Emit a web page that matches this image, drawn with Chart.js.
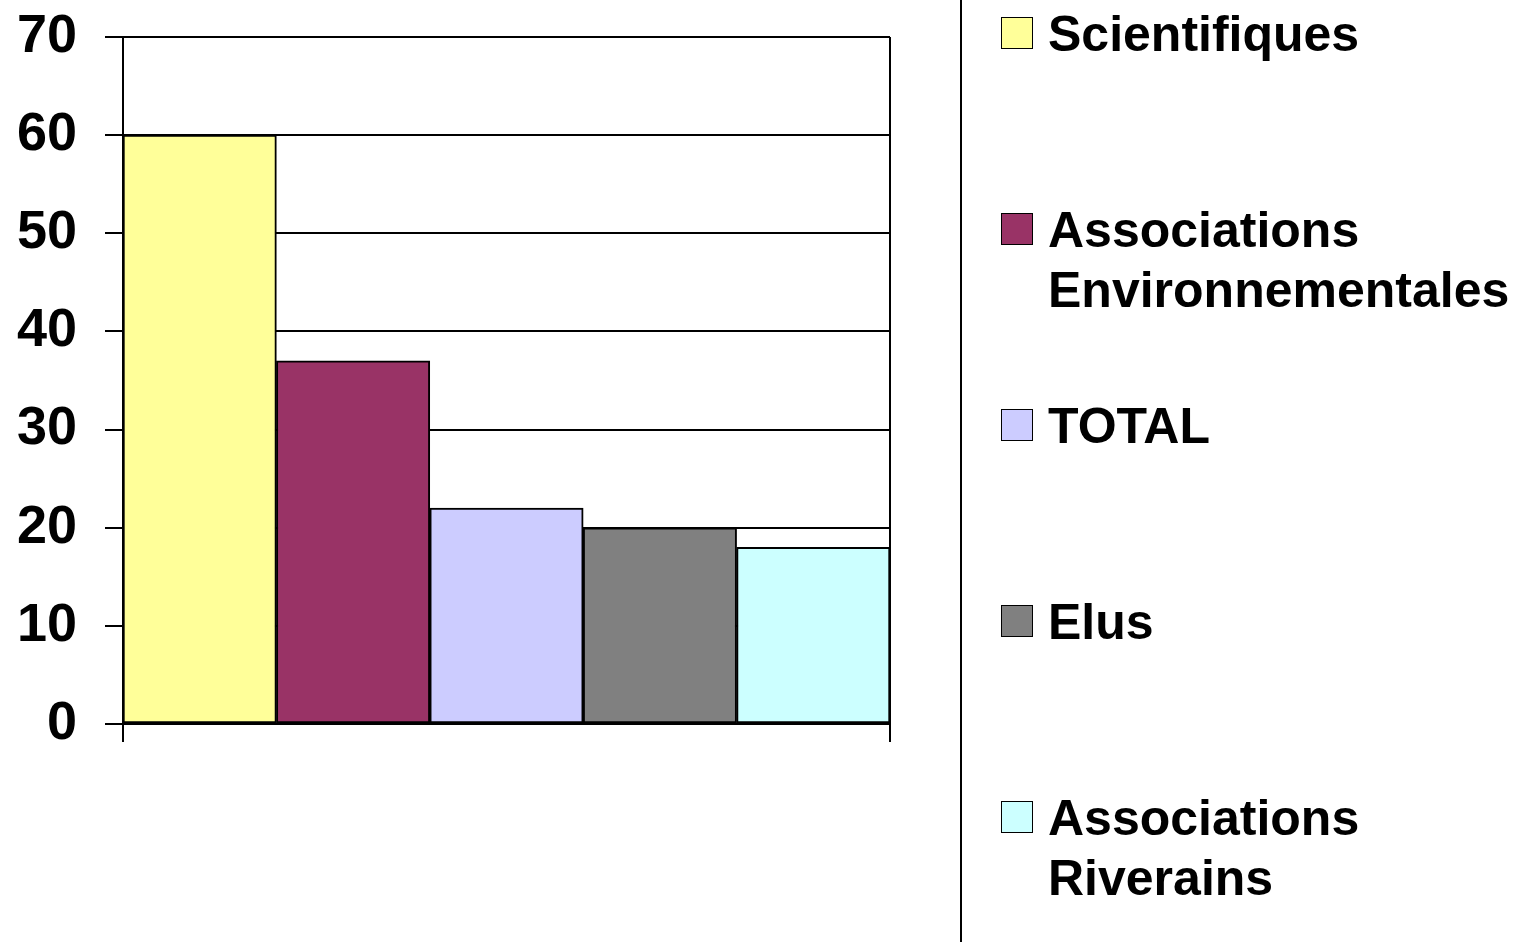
<!DOCTYPE html>
<html>
<head>
<meta charset="utf-8">
<script src="https://cdn.jsdelivr.net/npm/chart.js@4"></script>
<style>
html, body { margin: 0; padding: 0; background: #fff; }
#wrap { position: relative; width: 1533px; height: 942px; overflow: hidden; }
#divider { position: absolute; left: 960px; top: 0; width: 2px; height: 942px; background: #000; }
.item { position: absolute; left: 1001px; font-family: "Liberation Sans", Arial, sans-serif; font-weight: bold; font-size: 50px; line-height: 60px; color: #000; white-space: pre-line; }
.item .box { position: absolute; left: 0; top: 13px; width: 30px; height: 30px; border: 1px solid #000; }
.item .txt { position: absolute; left: 47px; top: 0; width: 500px; }
</style>
</head>
<body>
<div id="wrap">
  <canvas id="myChart" width="1533" height="942"></canvas>
  <div id="divider"></div>
  <div id="legend"></div>
</div>
<script>
// series names, values and colours
var seriesNames = ["Scientifiques", "Associations\nEnvironnementales", "TOTAL", "Elus", "Associations\nRiverains"];
var seriesValues = [60, 37, 22, 20, 18];
var seriesColors = ["#FFFF99", "#993366", "#CCCCFF", "#808080", "#CCFFFF"];
var xlabels = [""];
var yTicks = [0, 10, 20, 30, 40, 50, 60, 70];

var datasets = [];
for (var i = 0; i < seriesNames.length; i++) {
    datasets.push({
        label: seriesNames[i].replace("\n", " "),
        data: [seriesValues[i]],
        backgroundColor: seriesColors[i],
        borderColor: "#000",
        borderWidth: 2,
        borderSkipped: false
    });
}

// html legend, one item every 196px
var legend = document.getElementById("legend");
seriesNames.forEach(function (name, i) {
    var item = document.createElement("div");
    item.className = "item";
    item.style.top = (4 + i * 196) + "px";
    var box = document.createElement("div");
    box.className = "box";
    box.style.background = seriesColors[i];
    var txt = document.createElement("div");
    txt.className = "txt";
    txt.textContent = name;
    item.appendChild(box);
    item.appendChild(txt);
    legend.appendChild(item);
});

const ctx = document.getElementById("myChart");
new Chart(ctx, {
    type: "bar",
    data: { labels: xlabels, datasets: datasets },
    options: {
        responsive: false,
        animation: false,
        layout: { padding: { left: 0, right: 643, top: 37, bottom: 200 } },
        plugins: { legend: { display: false }, tooltip: { enabled: false } },
        datasets: { bar: { barPercentage: 1, categoryPercentage: 1 } },
        scales: {
            x: {
                grid: { color: "#000", lineWidth: 2, tickLength: 18, offset: true },
                border: { color: "#000", width: 2 },
                ticks: { display: false },
                afterFit: function (scale) { scale.height = 18; }
            },
            y: {
                min: 0,
                max: 70,
                afterBuildTicks: function (scale) {
                    scale.ticks = yTicks.map(function (v) { return { value: v }; });
                },
                grid: { color: "#000", lineWidth: 2, tickLength: 18 },
                border: { color: "#000", width: 2 },
                ticks: {
                    color: "#000",
                    padding: 28,
                    font: { family: "Liberation Sans", weight: "bold", size: 54, lineHeight: 0.3 }
                },
                afterFit: function (scale) { scale.width = 123; }
            }
        }
    }
});
</script>
</body>
</html>
